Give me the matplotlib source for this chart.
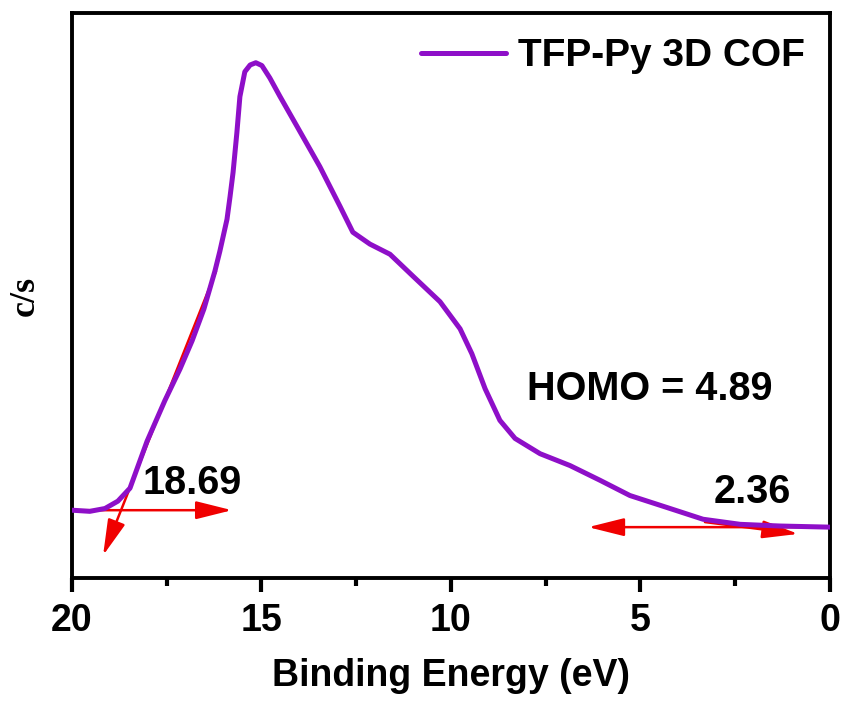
import matplotlib
matplotlib.use("Agg")
import matplotlib.pyplot as plt

# ─── Datos ───────────────────────────────────────────────────────────────────
energy = [20.00, 19.53, 19.13, 18.79, 18.47, 18.02, 17.55, 17.15, 16.83, 16.52,
          16.23, 16.10, 16.00, 15.91, 15.83, 15.75, 15.65, 15.57, 15.44, 15.30,
          15.15, 14.99, 14.78, 14.51, 14.06, 13.46, 12.93, 12.59, 12.14, 11.61,
          11.00, 10.29, 9.76, 9.45, 9.10, 8.71, 8.31, 7.65, 6.86, 6.07,
          5.28, 4.22, 3.35, 2.37, 1.32, 0.00]
counts = [12.0, 11.8, 12.3, 13.6, 15.9, 24.2, 31.4, 37.0, 42.0, 47.6,
          54.3, 57.8, 60.8, 63.5, 67.5, 71.8, 78.8, 85.2, 89.6, 90.8,
          91.2, 90.7, 88.5, 85.2, 79.9, 72.8, 65.8, 61.2, 59.1, 57.3,
          53.4, 48.9, 44.1, 39.7, 33.5, 27.9, 24.7, 22.0, 19.9, 17.3,
          14.6, 12.3, 10.4, 9.5, 9.2, 9.0]

# flechas (inicio, fin) en coordenadas de datos
arrows = [
    ((16.20, 54.3), (19.18, 4.0)),   # tangente borde izquierdo
    ((20.00, 12.0), (15.78, 12.0)),  # línea base izquierda
    ((0.20, 9.0), (6.38, 9.0)),      # línea base derecha
    ((3.30, 9.9), (0.84, 7.8)),      # tangente borde derecho
]
labels = [("18.69", 16.83, 16.8), ("HOMO = 4.89", 4.75, 33.5), ("2.36", 2.06, 15.3)]

PURPLE = '#8E0FC8'
RED = '#F00000'
SANS = ['Liberation Sans', 'DejaVu Sans']

fig = plt.figure(figsize=(8.45, 7.11), dpi=100)
ax = fig.add_axes([72/845, 1 - 578/711, 758/845, 565/711])

ax.plot(energy, counts, color=PURPLE, lw=3.6, solid_capstyle='round',
        solid_joinstyle='round', label='TFP-Py 3D COF', zorder=3)

for (x0, y0), (x1, y1) in arrows:
    ax.annotate('', xy=(x1, y1), xytext=(x0, y0),
                arrowprops=dict(arrowstyle='-|>,head_length=1.0,head_width=0.25',
                                color=RED, lw=1.8, mutation_scale=22,
                                shrinkA=0, shrinkB=0), zorder=2)

for txt, x, y in labels:
    ax.text(x, y, txt, ha='center', va='center', fontsize=28.5,
            fontweight='bold', family=SANS)

ax.set_xlim(20, 0)
ax.set_ylim(0, 100)
ax.set_xticks([20, 15, 10, 5, 0])
ax.set_xticks([17.5, 12.5, 7.5, 2.5], minor=True)
ax.set_yticks([])
ax.tick_params(axis='x', which='major', direction='out', length=10, width=3,
               labelsize=27, pad=8)
ax.tick_params(axis='x', which='minor', direction='out', length=6, width=3)
for lab in ax.get_xticklabels():
    lab.set_fontweight('bold')
    lab.set_family(SANS)
for sp in ax.spines.values():
    sp.set_linewidth(2.8)

ax.set_xlabel('Binding Energy (eV)', fontsize=27, fontweight='bold',
              family=SANS, labelpad=14)
ax.set_ylabel('c/s', fontsize=26, fontweight='bold',
              family=['Liberation Serif', 'DejaVu Serif'], labelpad=22)

leg = ax.legend(loc='upper right', frameon=False, handlelength=2.2,
                handletextpad=0.3, borderaxespad=0.25,
                prop=dict(family=SANS, weight='bold', size=28))

fig.savefig('out.png', dpi=100)
